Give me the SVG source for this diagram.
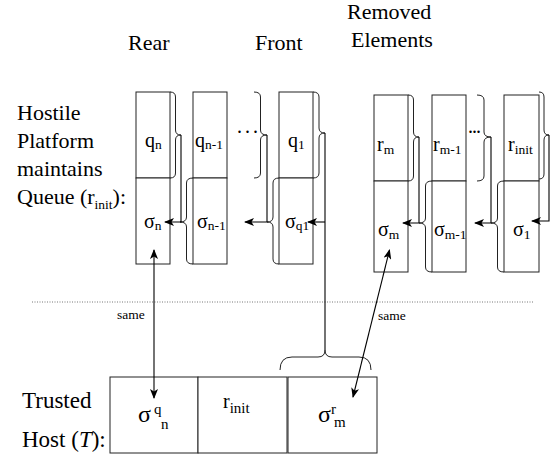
<svg xmlns="http://www.w3.org/2000/svg" width="557" height="457" viewBox="0 0 557 457">
<style>
text{font-family:"Liberation Serif","Times New Roman",serif;fill:#000}
.lbl{font-size:22px}
.big{font-size:23px}
.bx{font-size:20px}
.sub{font-size:13.5px}
.sm{font-size:13.5px}
.box{fill:#fff;stroke:#222;stroke-width:1}
.br{fill:none;stroke:#222;stroke-width:1}
.ln{fill:none;stroke:#000;stroke-width:1.1}
.dot{fill:none;stroke:#777;stroke-width:1;stroke-dasharray:1 1.5}
</style>
<defs>
<marker id="ah" viewBox="0 0 10 8" refX="9" refY="4" markerWidth="10" markerHeight="8" markerUnits="userSpaceOnUse" orient="auto-start-reverse">
<path d="M0,0 L10,4 L0,8 L2.5,4 z" fill="#000"/>
</marker>
</defs>

<g id="labels">
<text class="lbl" x="128" y="50">Rear</text>
<text class="lbl" x="255" y="50">Front</text>
<text class="lbl" x="347" y="19">Removed</text>
<text class="lbl" x="351" y="47">Elements</text>
<text class="lbl" x="17" y="120">Hostile</text>
<text class="lbl" x="17" y="148">Platform</text>
<text class="lbl" x="17" y="176">maintains</text>
<text class="lbl" x="17" y="204">Queue (r<tspan class="sub" font-size="15px" dy="5">init</tspan><tspan dy="-5">):</tspan></text>
<text class="big" x="22" y="408">Trusted</text>
<text class="big" x="22" y="447">Host (<tspan font-style="italic">T</tspan>):</text>
<text class="sm" x="117" y="319">same</text>
<text class="sm" x="378" y="320">same</text>
<text class="bx" x="237" y="133" letter-spacing="3">...</text>
<text class="bx" x="468" y="133" letter-spacing="-1">...</text>
</g>

<g id="q-n">
<rect class="box" x="136" y="92" width="34" height="86"/>
<rect class="box" x="136" y="178" width="34" height="86"/>
<text class="bx" x="145" y="147">q<tspan class="sub" dy="2">n</tspan></text>
<text class="bx" x="144" y="228">σ<tspan class="sub" dy="2">n</tspan></text>
</g>
<g id="q-n-1">
<rect class="box" x="193" y="92" width="34" height="86"/>
<rect class="box" x="193" y="178" width="34" height="86"/>
<text class="bx" x="195" y="147">q<tspan class="sub" dy="2">n-1</tspan></text>
<text class="bx" x="197" y="228">σ<tspan class="sub" dy="2">n-1</tspan></text>
</g>
<g id="q-1">
<rect class="box" x="279" y="92" width="34" height="86"/>
<rect class="box" x="279" y="178" width="34" height="86"/>
<text class="bx" x="288" y="147">q<tspan class="sub" dy="2">1</tspan></text>
<text class="bx" x="285" y="228">σ<tspan class="sub" dy="2">q1</tspan></text>
</g>
<g id="r-m">
<rect class="box" x="374" y="95" width="34" height="86"/>
<rect class="box" x="374" y="181" width="34" height="91"/>
<text class="bx" x="377" y="151">r<tspan class="sub" dy="3">m</tspan></text>
<text class="bx" x="378" y="236">σ<tspan class="sub" dy="3">m</tspan></text>
</g>
<g id="r-m-1">
<rect class="box" x="432" y="95" width="34" height="86"/>
<rect class="box" x="432" y="181" width="34" height="91"/>
<text class="bx" x="433" y="151">r<tspan class="sub" dy="3">m-1</tspan></text>
<text class="bx" x="434" y="236">σ<tspan class="sub" dy="3">m-1</tspan></text>
</g>
<g id="r-init">
<rect class="box" x="504" y="95" width="35" height="86"/>
<rect class="box" x="504" y="181" width="35" height="91"/>
<text class="bx" x="508" y="151">r<tspan class="sub" dy="3">init</tspan></text>
<text class="bx" x="513" y="236">σ<tspan class="sub" dy="3">1</tspan></text>
</g>

<g id="trusted-host">
<rect class="box" x="110" y="377" width="88" height="76"/>
<rect class="box" x="198" y="377" width="89" height="76"/>
<rect class="box" x="288" y="377" width="89" height="76"/>
<text font-size="24px" x="138" y="422">σ</text>
<text font-size="15px" x="154" y="414">q</text>
<text font-size="15px" x="161" y="429">n</text>
<text font-size="20px" x="223" y="408">r<tspan font-size="15px" dy="5">init</tspan></text>
<text font-size="24px" x="318" y="422">σ</text>
<text font-size="15px" x="331" y="414">r</text>
<text font-size="15px" x="334" y="427">m</text>
</g>

<g id="connectors">
<line class="dot" x1="32" y1="302" x2="533" y2="302"/>
<path class="br" d="M170,92 Q175.5,92 175.5,97 L175.5,130 Q175.5,135 181,135 Q175.5,135 175.5,140 L175.5,173 Q175.5,178 170,178"/>
<path class="br" d="M254,92 Q260.5,92 260.5,97 L260.5,130 Q260.5,135 267,135 Q260.5,135 260.5,140 L260.5,173 Q260.5,178 254,178"/>
<path class="br" d="M313,92 Q319,92 319,97 L319,128 Q319,133 325,133 Q319,133 319,138 L319,173 Q319,178 313,178"/>
<path class="br" d="M193,178 Q186.5,178 186.5,183 L186.5,217 Q186.5,222 180,222 Q186.5,222 186.5,227 L186.5,259 Q186.5,264 193,264"/>
<path class="br" d="M279,178 Q273,178 273,183 L273,217 Q273,222 267,222 Q273,222 273,227 L273,259 Q273,264 279,264"/>
<path class="br" d="M408,95 Q413.5,95 413.5,100 L413.5,132 Q413.5,137 419,137 Q413.5,137 413.5,142 L413.5,176 Q413.5,181 408,181"/>
<path class="br" d="M477,95 Q484,95 484,100 L484,132 Q484,137 491,137 Q484,137 484,142 L484,176 Q484,181 477,181"/>
<path class="br" d="M539,92 Q544,92 544,97 L544,130 Q544,135 549,135 Q544,135 544,140 L544,174 Q544,179 539,179"/>
<path class="br" d="M432,181 Q425.5,181 425.5,186 L425.5,218 Q425.5,223 419,223 Q425.5,223 425.5,228 L425.5,267 Q425.5,272 432,272"/>
<path class="br" d="M504,181 Q497.5,181 497.5,186 L497.5,218 Q497.5,223 491,223 Q497.5,223 497.5,228 L497.5,267 Q497.5,272 504,272"/>
<path class="br" d="M280,370 Q280,357 292,357 L318,357 Q325,357 325,350 Q325,357 332,357 L359,357 Q371,357 371,370"/>
<polyline class="ln" points="181,135 181,222 165,222" marker-end="url(#ah)"/>
<polyline class="ln" points="267,135 267,222 245,222" marker-end="url(#ah)"/>
<line class="ln" x1="325" y1="133" x2="325" y2="350"/>
<line class="ln" x1="325" y1="222" x2="308" y2="222" marker-end="url(#ah)"/>
<polyline class="ln" points="419,137 419,223 403,223" marker-end="url(#ah)"/>
<polyline class="ln" points="491,137 491,223 475,223" marker-end="url(#ah)"/>
<polyline class="ln" points="549,135 549,221 532,221" marker-end="url(#ah)"/>
<line class="ln" x1="154" y1="250" x2="154" y2="398" marker-start="url(#ah)" marker-end="url(#ah)"/>
<line class="ln" x1="389.5" y1="250" x2="353" y2="397" marker-start="url(#ah)" marker-end="url(#ah)"/>
</g>
</svg>
